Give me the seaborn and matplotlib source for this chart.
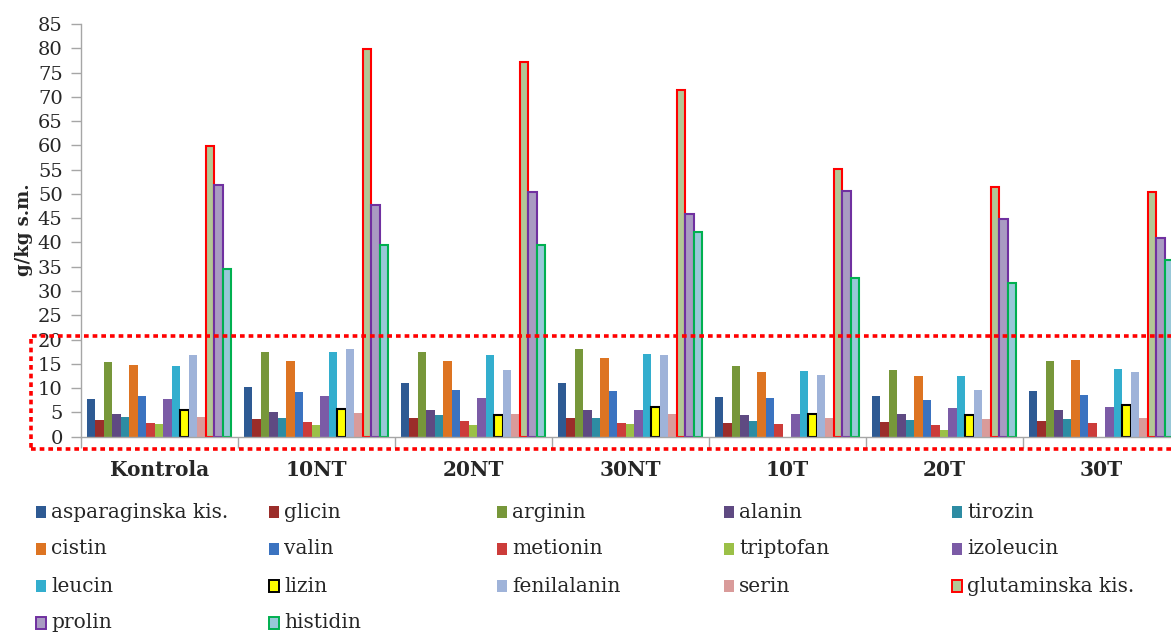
import numpy as np
import pandas as pd
import matplotlib
matplotlib.use("Agg")
import matplotlib.pyplot as plt
from matplotlib.patches import Rectangle
import seaborn as sns

groups = ["Kontrola", "10NT", "20NT", "30NT", "10T", "20T", "30T"]
amino = ["asparaginska kis.", "glicin", "arginin", "alanin", "tirozin",
         "cistin", "valin", "metionin", "triptofan", "izoleucin",
         "leucin", "lizin", "fenilalanin", "serin", "glutaminska kis.",
         "prolin", "histidin"]

asparaginska = [7.8, 10.2, 11.0, 11.0, 8.2, 8.3, 9.5]
glicin       = [3.4, 3.7, 3.9, 3.8, 2.9, 3.1, 3.2]
arginin      = [15.3, 17.5, 17.4, 18.1, 14.5, 13.7, 15.6]
alanin       = [4.6, 5.0, 5.5, 5.6, 4.5, 4.7, 5.5]
tirozin      = [4.0, 3.9, 4.4, 3.8, 3.2, 3.4, 3.7]
cistin       = [14.7, 15.5, 15.6, 16.3, 13.4, 12.5, 15.9]
valin        = [8.3, 9.3, 9.7, 9.5, 7.9, 7.6, 8.5]
metionin     = [2.8, 3.0, 3.2, 2.9, 2.6, 2.4, 2.9]
triptofan    = [2.6, 2.5, 2.4, 2.6, 0.0, 1.4, 0.0]
izoleucin    = [7.7, 8.4, 7.9, 5.6, 4.7, 6.0, 6.2]
leucin       = [14.5, 17.4, 16.9, 17.1, 13.6, 12.6, 13.9]
lizin        = [5.5, 5.7, 4.5, 6.2, 4.7, 4.5, 6.5]
fenilalanin  = [16.8, 18.1, 13.7, 16.8, 12.8, 9.7, 13.3]
serin        = [4.0, 4.9, 4.7, 4.7, 3.8, 3.7, 3.8]
glutaminska  = [59.8, 79.9, 77.2, 71.5, 55.1, 51.4, 50.4]
prolin       = [51.9, 47.8, 50.3, 45.9, 50.7, 44.9, 41.0]
histidin     = [34.5, 39.5, 39.4, 42.1, 32.7, 31.6, 36.4]

series = [asparaginska, glicin, arginin, alanin, tirozin, cistin, valin,
          metionin, triptofan, izoleucin, leucin, lizin, fenilalanin, serin,
          glutaminska, prolin, histidin]

colors = ["#2E5A93", "#9B2D2A", "#77973A", "#5F4A82", "#2D8CA3",
          "#DD7422", "#3B73C0", "#CC3C3A", "#9BC047", "#7B5BA6",
          "#33AECE", "#FFFF00", "#9FB3D9", "#D99B9A", "#B3C796",
          "#A99BC2", "#98C8D8"]
edges = {11: "#000000", 14: "#FF0000", 15: "#7030A0", 16: "#00B050"}

rows = []
for name, vals in zip(amino, series):
    for g, v in zip(groups, vals):
        rows.append({"group": g, "amino": name, "value": v})
df = pd.DataFrame(rows)

sns.set_style("white")
plt.rcParams["font.family"] = ["DejaVu Serif"]

W, H = 1171, 635
fig = plt.figure(figsize=(W / 100, H / 100), dpi=100)
ax = fig.add_axes([80.7 / W, 1 - 436.7 / H, 1099 / W, (436.7 - 24) / H])

sns.barplot(data=df, x="group", y="value", hue="amino", order=groups,
            hue_order=amino, palette=colors, width=0.92, gap=0,
            saturation=1, legend=False, ax=ax, errorbar=None)

for i, cont in enumerate(ax.containers):
    for bar in cont:
        if i in edges:
            bar.set_edgecolor(edges[i])
            bar.set_linewidth(1.5)
        else:
            bar.set_edgecolor("none")
            bar.set_linewidth(0)

ax.set_xlim(-0.5, len(groups) - 0.5)
ax.set_ylim(0, 85)
ax.set_yticks(np.arange(0, 86, 5))
ax.tick_params(axis="y", labelsize=14, length=7, width=1, color="#A6A6A6",
               pad=6, left=True)
ax.set_xticks(range(len(groups)))
ax.set_xticklabels(groups, fontsize=14.5, fontweight="bold")
ax.set_xticks(np.arange(-0.5, len(groups), 1), minor=True)
ax.tick_params(axis="x", which="major", length=0, pad=17)
ax.tick_params(axis="x", which="minor", length=8, width=1, color="#A6A6A6",
               bottom=True)
ax.set_xlabel("")
ax.set_ylabel("")
for s in ["top", "right"]:
    ax.spines[s].set_visible(False)
for s in ["left", "bottom"]:
    ax.spines[s].set_color("#A6A6A6")
    ax.spines[s].set_linewidth(1)

fig.text(24 / W, 1 - 230 / H, "g/kg s.m.", rotation=90, ha="center",
         va="center", fontsize=13, fontweight="bold")

# dotted red highlight box
rect = Rectangle((30.5 / W, 1 - 449 / H), 1.2, (449 - 336) / H,
                 transform=fig.transFigure, fill=False, edgecolor="#FF0000",
                 linewidth=2.6, linestyle=(0, (1.3, 1.1)), clip_on=False)
fig.patches.append(rect)

# legend (row-major, 5 columns)
col_x = [36, 269, 497, 724, 952]
row_y = [512, 549, 586, 623]
for i, name in enumerate(amino):
    r, c = divmod(i, 5)
    x0 = col_x[c] / W
    y0 = 1 - row_y[r] / H
    ec = edges.get(i, "none")
    lw = 1.4 if i in edges else 0
    p = Rectangle((x0, y0 - 6 / H), 10 / W, 12 / H, transform=fig.transFigure,
                  facecolor=colors[i], edgecolor=ec, linewidth=lw)
    fig.patches.append(p)
    fig.text(x0 + 15 / W, y0, name, fontsize=14.5, va="center", ha="left")

fig.savefig("out.png", dpi=100)
